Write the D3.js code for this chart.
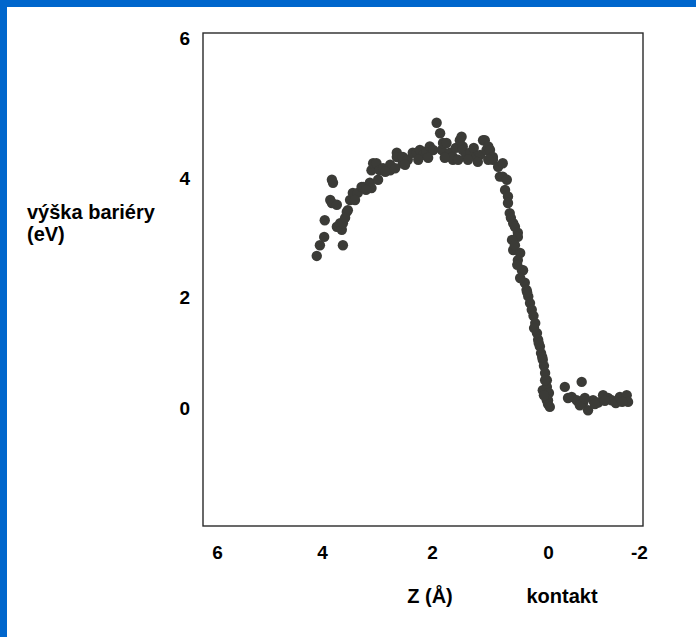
<!DOCTYPE html>
<html>
<head>
<meta charset="utf-8">
<script src="https://cdn.jsdelivr.net/npm/d3@7"></script>
<style>
  html, body { margin: 0; padding: 0; background: #fff; }
  .root { width: 696px; height: 637px; }
  text { font-family: "Liberation Sans", Arial, sans-serif; font-weight: bold; fill: #000; }
</style>
</head>
<body>
<div class="root"></div>
<script>
// tip distance z (Å) and barrier height (eV)
const zValues = [
  4.10, 4.04, 3.96, 3.95, 3.85, 3.82, 3.82, 3.80, 3.73, 3.67, 3.64, 3.62, 3.62, 3.55, 3.53,
  3.49, 3.44, 3.35, 3.28, 3.25, 3.13, 3.10, 3.10, 3.07, 3.01, 2.95, 2.89, 2.76, 2.76, 2.64,
  2.64, 2.53, 2.53, 2.44, 2.35, 2.28, 2.22, 2.16, 2.10, 2.04, 1.98, 1.92, 1.86, 1.83, 1.81,
  1.75, 1.69, 1.64, 1.64, 1.59, 1.52, 1.49, 1.47, 1.47, 1.41, 1.34, 1.28, 1.23, 1.17, 1.12,
  1.09, 1.06, 1.03, 1.00, 0.95, 0.95, 0.86, 0.83, 0.78, 0.78, 0.74, 0.71, 0.69, 0.69, 0.66,
  0.64, 0.60, 0.57, 0.52, 0.52, 0.60, 0.48, 0.52, 0.45, 0.43, 0.40, 0.37, 0.34, 0.31, 0.28,
  0.25, 0.22, 0.19, 0.17, 0.14, 0.12, 0.09, 0.07, 0.09, 0.05, 0.02, 0.02, 0.02, 0.00, -0.02,
  0.00, -0.04, -0.37, -0.52, -0.63, -0.74, -0.77, -0.88, -0.99, -1.10, -1.21, -1.32, -1.40,
  -1.49, -1.58, -1.73, -1.76,
  2.85, 2.67, 2.49, 2.25, 2.07, 1.78, 1.55, 1.38, 1.21, 1.03,
  3.73, 3.58, 3.40, 3.20, 2.98,
  0.62, 0.57, 0.53, 0.48, 0.36, 0.24, 0.16, 0.10, 0.05, 0.07,
  -0.44, -0.70, -0.81, -1.03, -1.25, -1.63
];
const barrierValues = [
  2.69, 2.87, 3.01, 3.29, 3.63, 3.58, 3.97, 3.92, 3.18, 3.24, 3.13, 2.87, 3.24, 3.43, 3.46,
  3.63, 3.75, 3.75, 3.85, 3.85, 3.92, 3.83, 4.11, 4.21, 4.21, 4.11, 4.14, 4.19, 4.11, 4.36,
  4.30, 4.21, 4.30, 4.26, 4.36, 4.36, 4.40, 4.33, 4.38, 4.45, 4.40, 4.79, 4.64, 4.40, 4.50,
  4.50, 4.36, 4.26, 4.30, 4.43, 4.54, 4.59, 4.45, 4.40, 4.33, 4.36, 4.43, 4.30, 4.33, 4.54,
  4.54, 4.40, 4.45, 4.40, 4.30, 4.26, 4.16, 4.02, 4.21, 4.02, 3.80, 3.97, 3.69, 3.58, 3.41,
  3.33, 3.24, 3.18, 3.08, 3.01, 2.79, 2.74, 2.62, 2.45, 2.45, 2.24, 2.12, 2.01, 1.89, 1.77,
  1.66, 1.53, 1.35, 1.23, 1.11, 0.99, 0.87, 0.76, 0.32, 0.63, 0.50, 0.38, 0.14, 0.14, 0.27,
  0.07, 0.02, 0.38, 0.20, 0.14, 0.47, 0.09, -0.04, 0.14, 0.10, 0.23, 0.18, 0.14,
  0.09, 0.20, 0.23, 0.11,
  4.09, 4.14, 4.19, 4.26, 4.29, 4.29, 4.26, 4.26, 4.23, 4.26,
  3.55, 3.33, 3.63, 3.80, 3.97,
  2.96, 2.87, 2.54, 2.32, 2.08, 1.44, 1.17, 0.92, 0.50, 0.23,
  0.18, 0.05, 0.18, 0.07, 0.13, 0.11
];
const xTickValues = [6, 4, 2, 0, -2];
const yTickValues = [6, 4, 2, 0];

const w = 696;
const h = 637;

const svg = d3.select(".root")
              .append("svg")
              .attr("width", w)
              .attr("height", h);

// blue slide frame (left and top edges)
svg.append("rect").attr("x", 0).attr("y", 0).attr("width", w).attr("height", 7).attr("fill", "#0066cc");
svg.append("rect").attr("x", 0).attr("y", 0).attr("width", 7).attr("height", h).attr("fill", "#0066cc");

// the scanned axes are not evenly spaced, so the scales follow the printed ticks
const xScale = d3.scaleLinear()
                 .domain([6.27, 6, 4, 2, 0, -2, -2.09])
                 .range([203, 217, 322, 432, 548, 639, 643]);

const yScale = d3.scaleLinear()
                 .domain([-2.13, 0, 2, 4, 6, 6.07])
                 .range([526, 408, 297, 178, 38, 33]);

// plot frame
svg.append("rect")
   .attr("x", xScale(6.27))
   .attr("y", yScale(6.07))
   .attr("width", xScale(-2.09) - xScale(6.27))
   .attr("height", yScale(-2.13) - yScale(6.07))
   .attr("fill", "none")
   .attr("stroke", "#2a2a2a")
   .attr("stroke-width", 1.4);

// points
svg.append("g")
   .selectAll("circle")
   .data(zValues.map((z, i) => [z, barrierValues[i]]))
   .enter()
   .append("circle")
   .attr("cx", (d) => xScale(d[0]))
   .attr("cy", (d) => yScale(d[1]))
   .attr("r", 5.2)
   .attr("fill", "#3b3b37");

// x axis labels
const xAxis = d3.axisBottom(xScale).tickValues(xTickValues).tickSize(0).tickPadding(20)
                .tickFormat((d) => d);
svg.append("g")
   .attr("class", "axis")
   .attr("transform", "translate(0," + yScale(-2.13) + ")")
   .call(xAxis)
   .call((g) => g.select(".domain").remove())
   .selectAll("text")
   .style("font-size", "19px")
   .style("font-family", "'Liberation Sans', Arial, sans-serif")
   .style("font-weight", "bold")
   .attr("fill", "#000");

// y axis labels
const yAxis = d3.axisLeft(yScale).tickValues(yTickValues).tickSize(0).tickPadding(13)
                .tickFormat((d) => d);
svg.append("g")
   .attr("class", "axis")
   .attr("transform", "translate(" + xScale(6.27) + ",0)")
   .call(yAxis)
   .call((g) => g.select(".domain").remove())
   .selectAll("text")
   .style("font-size", "19px")
   .style("font-family", "'Liberation Sans', Arial, sans-serif")
   .style("font-weight", "bold")
   .attr("fill", "#000");

// axis titles
svg.append("text")
   .attr("x", 27)
   .attr("y", 219)
   .style("font-size", "20px")
   .text("výška bariéry");
svg.append("text")
   .attr("x", 27)
   .attr("y", 241)
   .style("font-size", "20px")
   .text("(eV)");

svg.append("text")
   .attr("x", 430)
   .attr("y", 603)
   .attr("text-anchor", "middle")
   .style("font-size", "20px")
   .text("Z (Å)");

svg.append("text")
   .attr("x", 562)
   .attr("y", 603)
   .attr("text-anchor", "middle")
   .style("font-size", "20px")
   .text("kontakt");
</script>
</body>
</html>
